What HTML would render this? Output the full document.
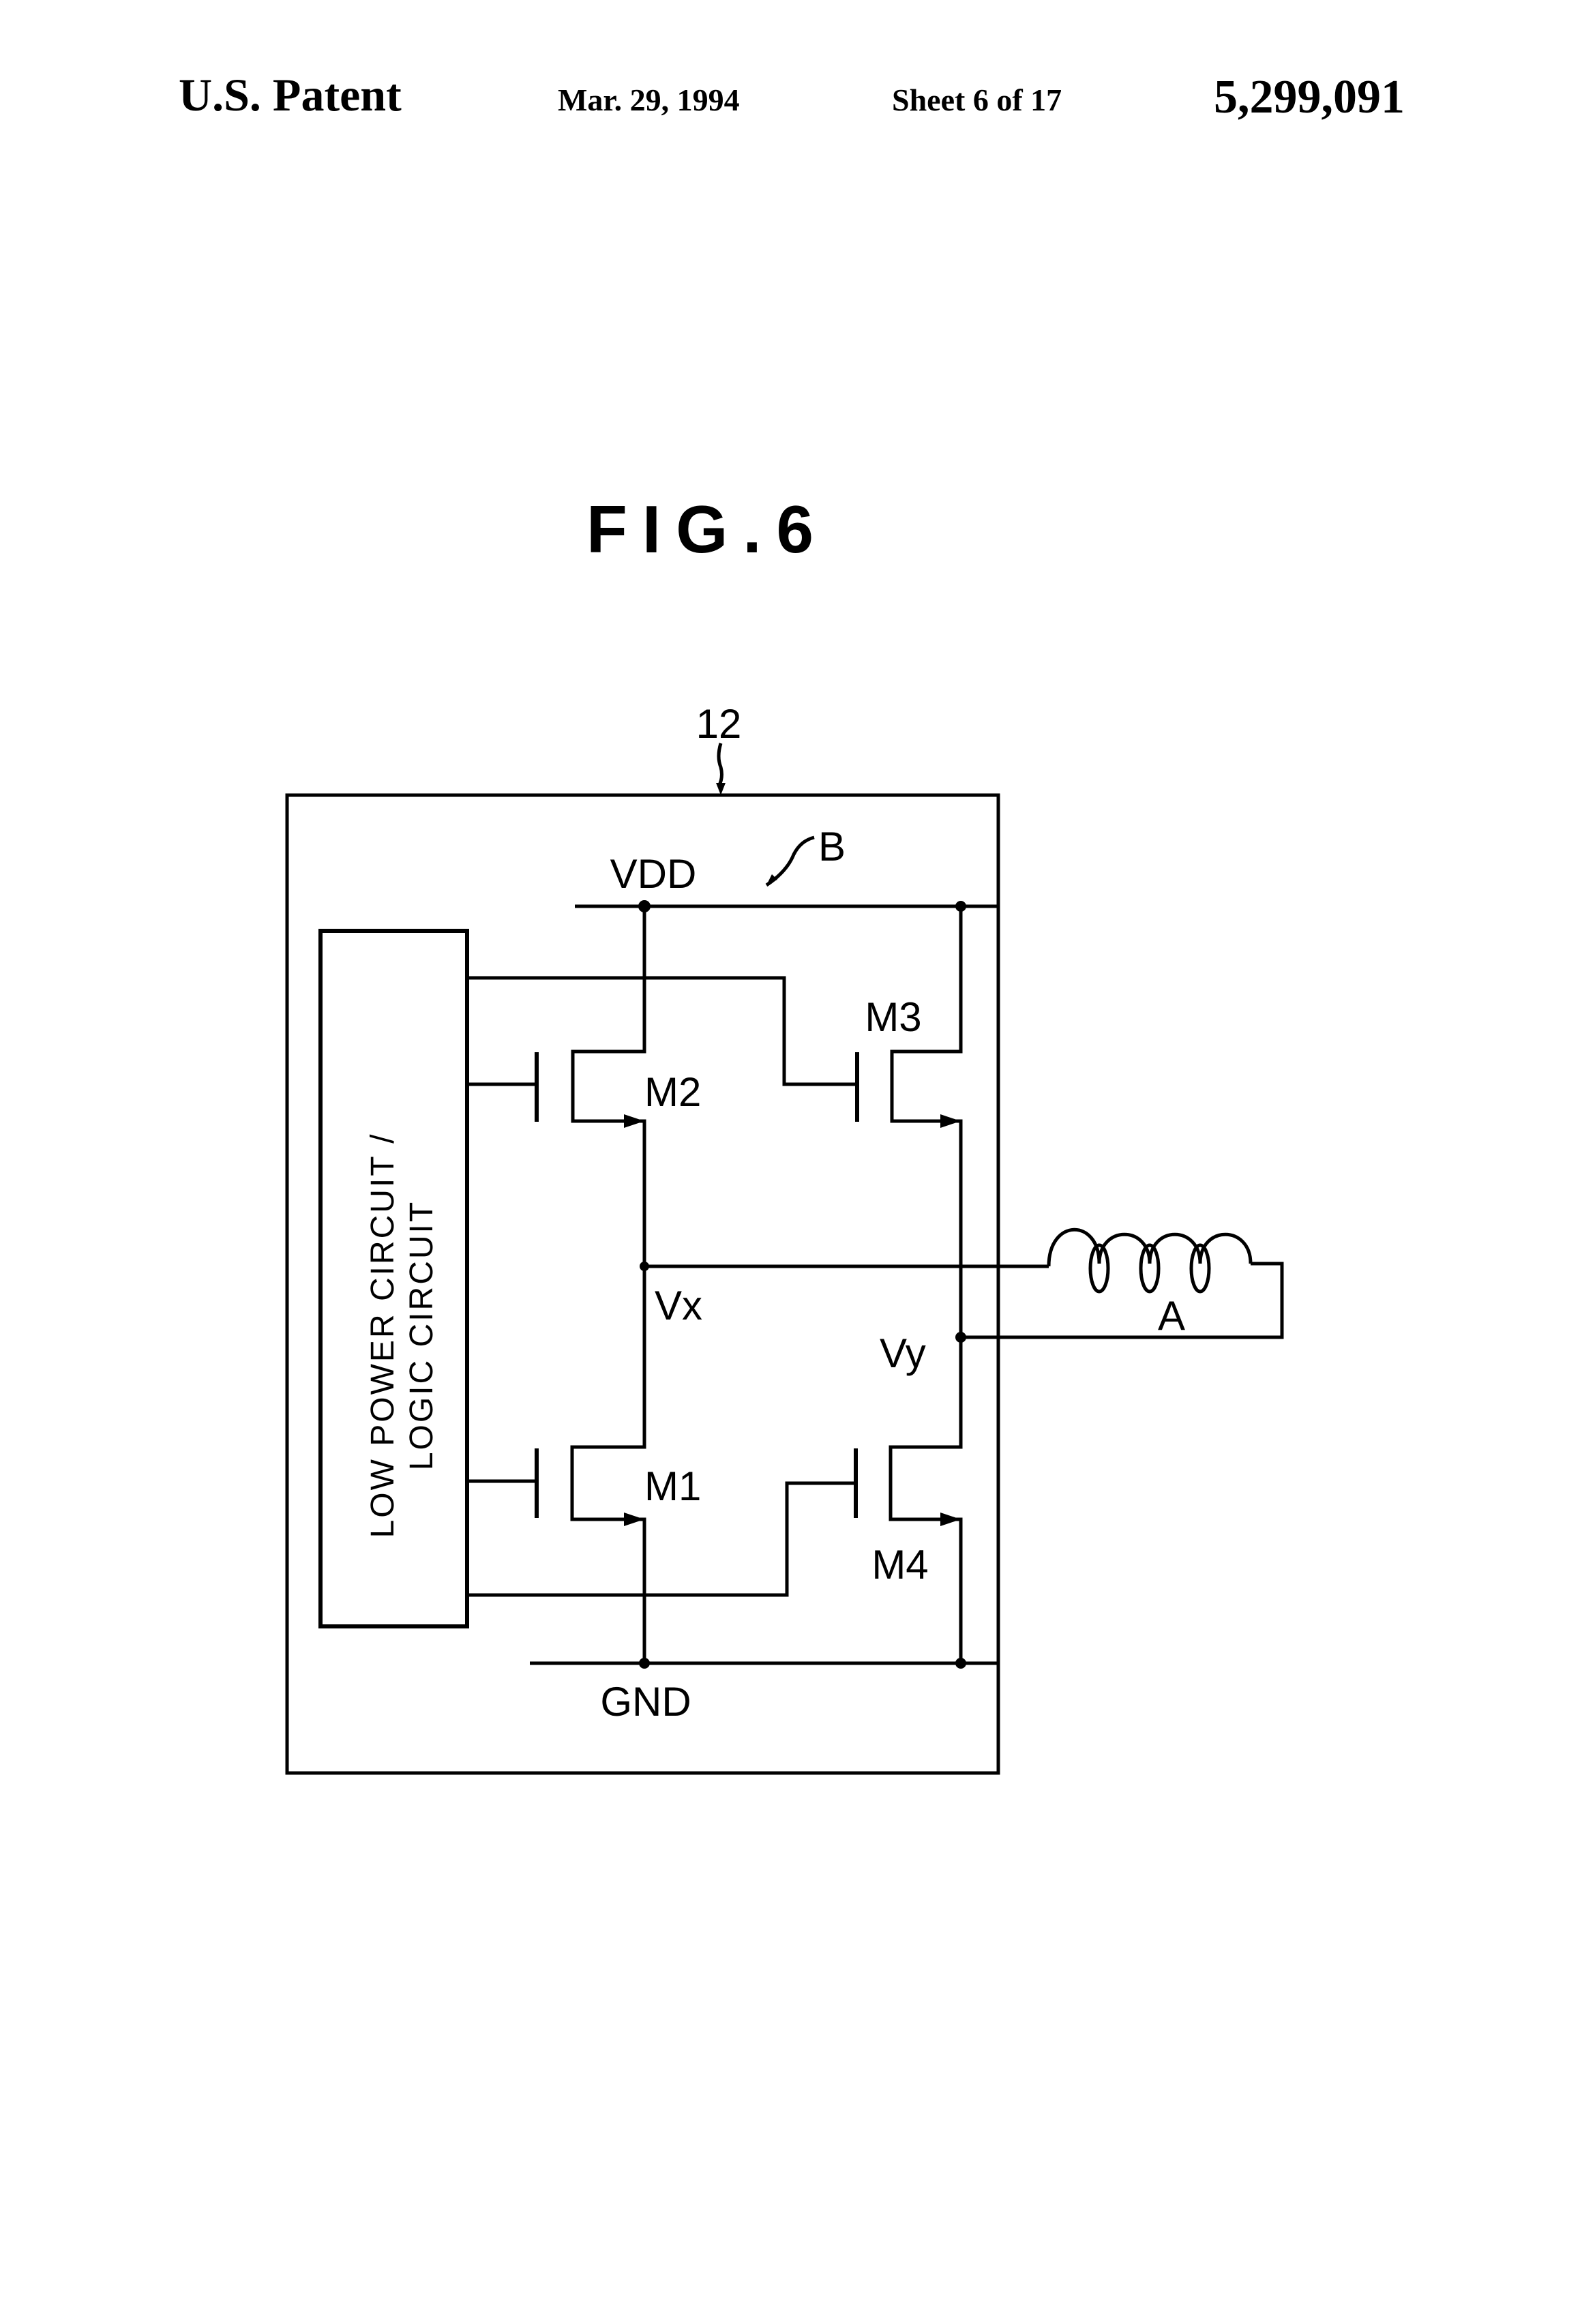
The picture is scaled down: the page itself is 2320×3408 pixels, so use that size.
<!DOCTYPE html>
<html><head><meta charset="utf-8"><style>
html,body{margin:0;padding:0;background:#fff}
svg{display:block}
</style></head><body>
<svg width="2320" height="3408" viewBox="0 0 2320 3408" xmlns="http://www.w3.org/2000/svg">
<rect width="2320" height="3408" fill="#fff"/>
<g font-family="Liberation Serif, serif" font-weight="bold" fill="#000">
<text x="262" y="162" font-size="68">U.S. Patent</text>
<text x="818" y="162" font-size="46">Mar. 29, 1994</text>
<text x="1308" y="162" font-size="46">Sheet 6 of 17</text>
<text x="1780" y="165" font-size="70">5,299,091</text>
</g>
<g font-family="Liberation Sans, sans-serif" fill="#000">
<text x="860" y="810" font-size="98" font-weight="bold" letter-spacing="22">FIG.6</text>
<text x="1054" y="1082" font-size="60" text-anchor="middle">12</text>
<text x="958" y="1302" font-size="60" text-anchor="middle">VDD</text>
<text x="1200" y="1262" font-size="60">B</text>
<text x="1310" y="1512" font-size="60" text-anchor="middle">M3</text>
<text x="945" y="1622" font-size="60">M2</text>
<text x="960" y="1935" font-size="60">Vx</text>
<text x="1290" y="2005" font-size="60">Vy</text>
<text x="1718" y="1950" font-size="60" text-anchor="middle">A</text>
<text x="945" y="2200" font-size="60">M1</text>
<text x="1320" y="2315" font-size="60" text-anchor="middle">M4</text>
<text x="947" y="2516" font-size="60" text-anchor="middle">GND</text>
<g transform="translate(577,1958) rotate(-90)"><text x="0" y="0" font-size="48" text-anchor="middle" letter-spacing="3">LOW POWER CIRCUIT /</text></g>
<g transform="translate(634,1958) rotate(-90)"><text x="0" y="0" font-size="48" text-anchor="middle" letter-spacing="3">LOGIC CIRCUIT</text></g>
</g>
<g stroke="#000" fill="none" stroke-width="5">
<rect x="421" y="1166" width="1043" height="1434"/>
<path d="M1057 1090 q-6 20 0 35 q4 15 -3 28" />
<path d="M1124 1298 q30 -20 40 -45 q10 -20 30 -25"/>
<rect x="470" y="1365" width="215" height="1020" stroke-width="6"/>
<path d="M843 1329 H1464" stroke-width="5"/>
<path d="M777 2439 H1464" stroke-width="5"/>
<path d="M945 1329 V1542 H840 V1644 H945 V2122 H839 V2228 H945 V2439"/>
<path d="M1409 1329 V1542 H1308 V1644 H1409 V2122 H1306 V2228 H1409 V2439"/>
<path d="M787 1543 V1645 M787 2124 V2226 M1257 1543 V1645 M1255 2124 V2226" stroke-width="6"/>
<path d="M685 1590 H787 M685 2172 H787"/>
<path d="M685 1434 H1150 V1590 H1257"/>
<path d="M685 2339 H1154 V2175 H1255"/>
<path d="M945 1857 H1538 M1409 1961 H1880 V1853 H1834"/>
<path d="M1538 1857 C1538 1786 1612 1786 1612 1853 C1612 1796 1686 1796 1686 1853 C1686 1796 1760 1796 1760 1853 C1760 1796 1834 1796 1834 1853"/>
<ellipse cx="1612" cy="1860" rx="13" ry="34"/>
<ellipse cx="1686" cy="1860" rx="13" ry="34"/>
<ellipse cx="1760" cy="1860" rx="13" ry="34"/>
</g>
<g fill="#000">
<circle cx="945" cy="1329" r="9"/><circle cx="1409" cy="1329" r="8"/>
<circle cx="945" cy="1857" r="7"/><circle cx="1409" cy="1961" r="8"/>
<circle cx="945" cy="2439" r="8"/><circle cx="1409" cy="2439" r="8"/>
<path d="M945 1644 l-30 -10 v20 z M1409 1644 l-30 -10 v20 z M945 2228 l-30 -10 v20 z M1409 2228 l-30 -10 v20 z"/>
<path d="M1057 1166 l-7 -18 h14 z"/>
<path d="M1124 1298 l8 -16 l8 8 z"/>
</g>
</svg>
</body></html>
